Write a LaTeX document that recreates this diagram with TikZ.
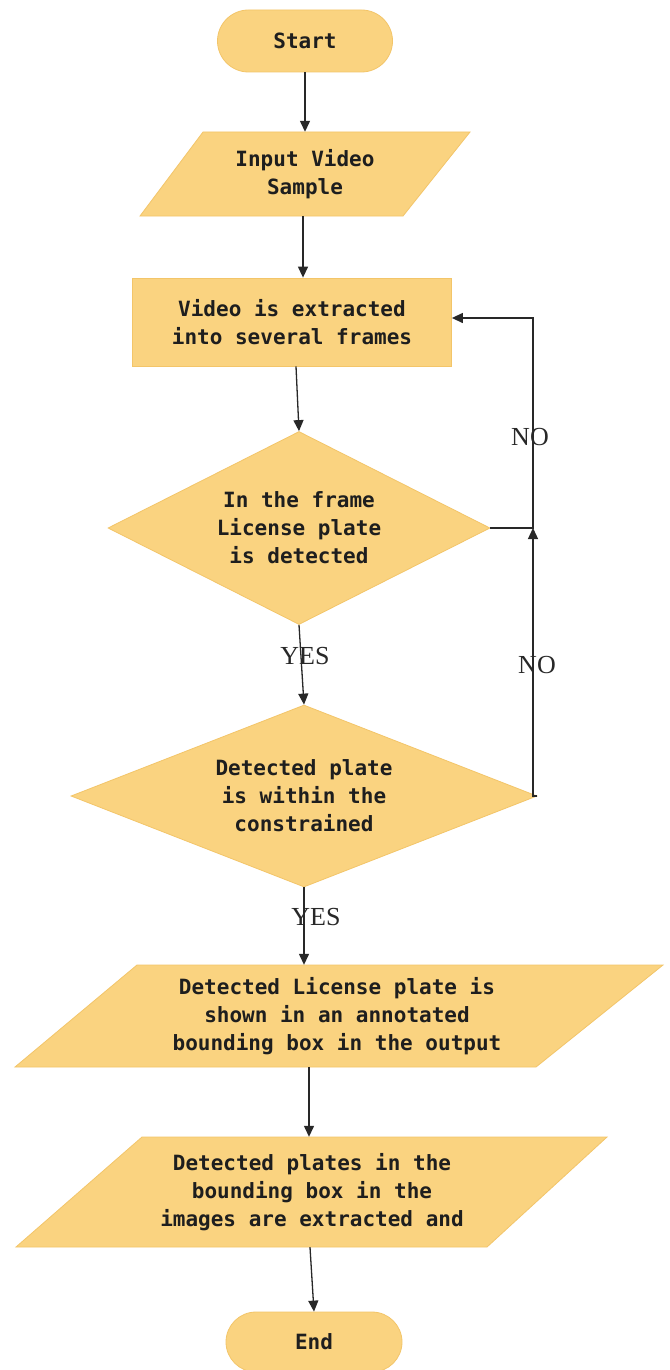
\documentclass[tikz,border=0pt]{standalone}
\usepackage{fontspec}
\setmainfont{Liberation Serif}
\setmonofont{DejaVu Sans Mono}
\usetikzlibrary{shapes.geometric,shapes.misc,arrows.meta}
\definecolor{boxfill}{RGB}{250,211,128}
\definecolor{boxedge}{RGB}{243,197,105}
\definecolor{ink}{RGB}{30,30,30}
\definecolor{lineink}{RGB}{40,40,40}
\begin{document}
\begin{tikzpicture}[x=1pt,y=-1pt,
  txt/.style={text=ink,font={\ttfamily\bfseries\fontsize{21}{28}\selectfont},align=center,inner sep=0pt},
  box/.style={txt,fill=boxfill,draw=boxedge,line width=0.8pt},
  term/.style={box,rounded rectangle,minimum width=175pt,minimum height=62pt},
  proc/.style={box,rectangle},
  io/.style={txt,rectangle},
  iofill/.style={fill=boxfill,draw=boxedge,line width=0.8pt},
  dec/.style={box,diamond,aspect=2},
  arr/.style={draw=lineink,line width=1.3pt,-{Triangle[length=11pt,width=10pt]}},
  lbl/.style={font={\fontsize{26}{26}\selectfont},text=lineink,inner sep=0pt}]
\useasboundingbox (0,0) rectangle (669,1370);
\fill[white] (0,0) rectangle (669,1370);

% parallelogram bodies
\path[iofill] (203,132) -- (470,132) -- (403,216) -- (140,216) -- cycle;
\path[iofill] (137,965) -- (663,965) -- (536,1067) -- (15,1067) -- cycle;
\path[iofill] (142,1137) -- (607,1137) -- (487,1247) -- (16,1247) -- cycle;

\node[term] (start) at (305,41) {Start};
\node[io,minimum height=84pt] (in) at (305,174) {Input Video\\Sample};
\node[proc,minimum width=319pt,minimum height=88pt] (ext) at (292,322)
      {Video is extracted\\into several frames};
\node[dec,minimum width=382pt,minimum height=193pt] (d1) at (299,528)
      {In the frame\\License plate\\is detected};
\node[dec,minimum width=466pt,minimum height=182pt] (d2) at (304,796)
      {Detected plate\\is within the\\constrained};
\node[io,minimum height=102pt] (show) at (337,1016)
      {Detected License plate is\\shown in an annotated\\bounding box in the output};
\node[io,minimum height=110pt] (crop) at (312,1192)
      {Detected plates in the\\bounding box in the\\images are extracted and};
\node[term,minimum width=176pt,minimum height=60pt] (end) at (314,1342) {End};

\coordinate (j) at (533,528);

\draw[arr] (start.south) -- (start.south |- in.north);
\draw[arr] ([xshift=-2pt]in.south) -- ([xshift=-2pt]in.south |- ext.north);
\draw[arr] ([xshift=4pt]ext.south) -- (d1.north);
\draw[arr] (d1.south) -- (d2.north);
\draw[arr] (d2.south) -- (d2.south |- show.north);
\draw[arr] ([xshift=-3pt]crop.north |- show.south) -- ([xshift=-3pt]crop.north);
\draw[arr] ([xshift=-2pt]crop.south) -- (end.north);
\draw[arr] (d1.east) -- (j) |- ([yshift=4pt]ext.east);
\draw[arr] (d2.east) -| (j);

\node[lbl] (no1) at (530,437) {NO};
\node[lbl] (no2) at (537,665) {NO};
\node[lbl] (yes1) at (305,656) {YES};
\node[lbl] (yes2) at (316,917) {YES};
\end{tikzpicture}
\end{document}
